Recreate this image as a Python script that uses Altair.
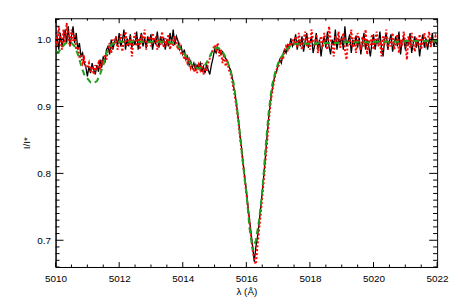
import altair as alt
import pandas as pd

# Wavelength grids (Angstrom): start and step of the sampled spectra
OBS_START, OBS_STEP = 5010.0, 0.05
MOD_START, MOD_STEP = 5010.0, 0.1

# Observed spectrum 1 (black solid), 241 samples 5010.00 .. 5022.00
black_flux = [
    0.995, 1.005, 0.985, 1.010, 0.990, 1.000, 1.015, 0.995, 1.020, 0.990,
    1.005, 1.020, 0.995, 1.010, 0.985, 0.995, 0.975, 0.980, 0.965, 0.960,
    0.945, 0.960, 0.950, 0.965, 0.955, 0.948, 0.962, 0.952, 0.970, 0.958,
    0.975, 0.965, 0.985, 0.990, 0.978, 1.000, 0.985, 0.995, 1.005, 0.990,
    1.010, 0.990, 0.998, 1.015, 0.985, 1.002, 0.990, 1.008, 0.988, 1.000,
    0.992, 1.012, 0.985, 1.000, 1.010, 0.990, 1.003, 0.987, 1.005, 0.995,
    1.008, 0.985, 1.000, 0.993, 1.012, 0.988, 1.005, 0.995, 1.003, 0.985,
    1.000, 0.990, 1.010, 0.995, 1.015, 0.992, 1.005, 0.998, 0.985, 0.990,
    0.978, 0.985, 0.970, 0.975, 0.962, 0.968, 0.958, 0.965, 0.955, 0.962,
    0.958, 0.965, 0.952, 0.960, 0.950, 0.963, 0.955, 0.948, 0.962, 0.972,
    0.985, 0.980, 0.988, 0.984, 0.978, 0.982, 0.975, 0.972, 0.968, 0.960,
    0.955, 0.945, 0.930, 0.918, 0.900, 0.880, 0.858, 0.838, 0.815, 0.795,
    0.775, 0.752, 0.730, 0.710, 0.690, 0.668, 0.690, 0.705, 0.725, 0.748,
    0.772, 0.798, 0.825, 0.855, 0.882, 0.905, 0.922, 0.935, 0.948, 0.952,
    0.962, 0.970, 0.965, 0.978, 0.985, 0.980, 0.992, 0.988, 1.002, 0.990,
    0.995, 1.008, 0.985, 1.000, 0.990, 1.005, 0.982, 0.998, 1.010, 0.988,
    0.995, 1.005, 0.980, 0.992, 1.010, 0.985, 1.000, 0.975, 0.995, 1.005,
    0.988, 1.012, 0.990, 0.978, 1.000, 0.992, 1.015, 0.985, 1.002, 0.995,
    1.005, 0.985, 1.020, 0.990, 0.998, 1.008, 0.980, 1.000, 0.992, 1.006,
    0.988, 1.003, 0.978, 0.995, 1.010, 0.985, 1.000, 0.990, 0.975, 0.995,
    1.008, 0.985, 1.000, 0.993, 1.012, 0.988, 0.975, 1.000, 1.010, 0.985,
    0.998, 1.008, 0.982, 0.995, 1.005, 0.990, 1.012, 0.978, 0.998, 1.003,
    0.985, 1.000, 0.992, 1.010, 0.980, 0.995, 1.005, 0.988, 1.000, 0.975,
    0.995, 1.008, 0.988, 1.002, 0.985, 1.000, 0.993, 1.010, 0.990, 0.998,
    0.992,
]

# Observed spectrum 2 (red dotted), 241 samples 5010.00 .. 5022.00
red_flux = [
    1.010, 0.990, 1.020, 1.000, 0.985, 1.015, 0.995, 1.025, 1.005, 0.990,
    1.015, 0.998, 1.008, 0.985, 0.990, 0.975, 0.978, 0.965, 0.972, 0.960,
    0.958, 0.965, 0.952, 0.960, 0.948, 0.962, 0.955, 0.965, 0.958, 0.970,
    0.962, 0.978, 0.970, 0.985, 0.995, 0.980, 1.000, 0.992, 1.005, 0.985,
    0.995, 1.008, 0.982, 1.000, 1.012, 0.990, 0.995, 1.005, 0.975, 1.000,
    1.010, 0.990, 1.002, 0.985, 1.008, 0.995, 1.015, 0.985, 0.998, 1.005,
    0.990, 1.010, 0.995, 1.005, 0.985, 1.000, 0.992, 1.012, 0.988, 1.002,
    0.995, 1.008, 0.985, 1.000, 0.990, 1.005, 0.995, 0.985, 0.992, 0.980,
    0.982, 0.970, 0.978, 0.965, 0.970, 0.958, 0.965, 0.952, 0.960, 0.950,
    0.962, 0.955, 0.965, 0.948, 0.958, 0.952, 0.965, 0.972, 0.980, 0.985,
    0.992, 0.985, 0.995, 0.975, 0.985, 0.965, 0.978, 0.960, 0.970, 0.955,
    0.950, 0.940, 0.925, 0.912, 0.895, 0.878, 0.855, 0.835, 0.812, 0.790,
    0.770, 0.748, 0.728, 0.705, 0.685, 0.670, 0.664, 0.692, 0.715, 0.738,
    0.765, 0.790, 0.818, 0.845, 0.875, 0.900, 0.918, 0.932, 0.945, 0.955,
    0.958, 0.968, 0.975, 0.970, 0.982, 0.990, 0.985, 0.995, 0.990, 1.002,
    0.992, 1.005, 0.988, 1.010, 0.995, 0.985, 1.000, 1.012, 0.990, 1.003,
    0.985, 1.015, 0.998, 0.990, 1.008, 0.980, 0.995, 1.005, 0.988, 1.010,
    0.995, 0.985, 1.020, 1.000, 0.990, 0.975, 1.005, 0.995, 1.012, 0.988,
    0.998, 1.010, 0.985, 0.970, 1.000, 0.992, 1.015, 0.988, 1.003, 0.980,
    1.010, 0.995, 0.985, 1.005, 0.990, 1.015, 0.978, 1.000, 0.992, 1.008,
    0.985, 1.000, 1.012, 0.990, 0.998, 0.975, 1.005, 0.993, 1.015, 0.985,
    1.002, 0.990, 1.010, 0.985, 0.995, 1.008, 0.980, 1.000, 0.990, 1.012,
    0.995, 0.970, 1.005, 0.988, 1.010, 0.995, 0.982, 1.003, 0.990, 1.008,
    0.985, 1.000, 1.010, 0.992, 0.998, 1.012, 0.988, 1.000, 0.995, 1.005,
    0.998,
]

# Model spectrum (green dashed), 121 samples 5010.0 .. 5022.0
model_flux = [
    0.980, 0.982, 0.988, 0.994, 0.996, 0.995, 0.990, 0.978, 0.962, 0.948,
    0.942, 0.936, 0.935, 0.938, 0.948, 0.962, 0.980, 0.990, 0.994, 0.996,
    0.997, 0.997, 0.997, 0.997, 0.997, 0.997, 0.997, 0.997, 0.997, 0.997,
    0.997, 0.997, 0.997, 0.997, 0.997, 0.996, 0.996, 0.995, 0.993, 0.988,
    0.982, 0.975, 0.968, 0.962, 0.958, 0.957, 0.958, 0.962, 0.970, 0.980,
    0.987, 0.988, 0.985, 0.978, 0.968, 0.955, 0.935, 0.902, 0.858, 0.812,
    0.772, 0.718, 0.685, 0.700, 0.730, 0.772, 0.836, 0.890, 0.930, 0.950,
    0.965, 0.974, 0.981, 0.987, 0.991, 0.993, 0.994, 0.994, 0.994, 0.994,
    0.994, 0.994, 0.994, 0.995, 0.995, 0.995, 0.995, 0.995, 0.995, 0.995,
    0.996, 0.996, 0.996, 0.996, 0.996, 0.996, 0.996, 0.996, 0.996, 0.996,
    0.997, 0.997, 0.997, 0.997, 0.997, 0.997, 0.997, 0.997, 0.997, 0.997,
    0.998, 0.998, 0.998, 0.998, 0.998, 0.998, 0.998, 0.998, 0.998, 0.998,
    0.999,
]

x_major = [5010, 5012, 5014, 5016, 5018, 5020, 5022]
x_minor = [5010.5, 5011, 5011.5, 5012.5, 5013, 5013.5, 5014.5, 5015, 5015.5,
           5016.5, 5017, 5017.5, 5018.5, 5019, 5019.5, 5020.5, 5021, 5021.5]
y_major = [0.7, 0.8, 0.9, 1.0]
y_minor = [round(0.66 + 0.01 * k, 2) for k in range(38)]
y_minor = [v for v in y_minor if v not in y_major and v <= 1.03]

X_DOMAIN = [5010, 5022]
Y_DOMAIN = [0.66, 1.032]
W, H = 385, 251

black_df = pd.DataFrame({"wl": [OBS_START + OBS_STEP * i for i in range(len(black_flux))],
                         "flux": black_flux})
red_df = pd.DataFrame({"wl": [OBS_START + OBS_STEP * i for i in range(len(red_flux))],
                       "flux": red_flux})
model_df = pd.DataFrame({"wl": [MOD_START + MOD_STEP * i for i in range(len(model_flux))],
                         "flux": model_flux})

xs = alt.Scale(domain=X_DOMAIN, nice=False, zero=False)
ys = alt.Scale(domain=Y_DOMAIN, nice=False, zero=False)
font = "Liberation Sans"

x_axis = alt.Axis(values=x_major, format="d", ticks=False, grid=False,
                  labelFontSize=10, labelFont=font, labelColor="black",
                  labelPadding=7, title="λ (Å)", titleFont=font,
                  titleFontSize=10, titleFontWeight="normal", titleColor="black",
                  titlePadding=3, domainColor="black", labelFlush=False)
y_axis = alt.Axis(values=y_major, format=".1f", ticks=False, grid=False,
                  labelFontSize=10, labelFont=font, labelColor="black",
                  labelPadding=5, title="I/I*", titleFont=font,
                  titleFontSize=10, titleFontWeight="normal", titleColor="black",
                  titlePadding=5, domainColor="black", labelFlush=False)

X = lambda f: alt.X(f, scale=xs, axis=x_axis, title="λ (Å)")
Y = lambda f: alt.Y(f, scale=ys, axis=y_axis, title="I/I*")

black = alt.Chart(black_df).mark_line(color="black", strokeWidth=1.3, clip=True).encode(
    x=X("wl:Q"), y=Y("flux:Q"))
red = alt.Chart(red_df).mark_line(color="#ff0000", strokeWidth=2, strokeDash=[2, 2], clip=True).encode(
    x=X("wl:Q"), y=Y("flux:Q"))
green = alt.Chart(model_df).mark_line(color="#1fa01f", strokeWidth=2, strokeDash=[6, 4], clip=True).encode(
    x=X("wl:Q"), y=Y("flux:Q"))

def xticks(vals, length):
    d = pd.DataFrame({"v": vals})
    bottom = alt.Chart(d).mark_rule(color="black", strokeWidth=1).encode(
        x=X("v:Q"), y=alt.value(H), y2=alt.value(H - length))
    top = alt.Chart(d).mark_rule(color="black", strokeWidth=1).encode(
        x=X("v:Q"), y=alt.value(0), y2=alt.value(length))
    return [bottom, top]

def yticks(vals, length):
    d = pd.DataFrame({"v": vals})
    left = alt.Chart(d).mark_rule(color="black", strokeWidth=1).encode(
        y=Y("v:Q"), x=alt.value(0), x2=alt.value(length))
    right = alt.Chart(d).mark_rule(color="black", strokeWidth=1).encode(
        y=Y("v:Q"), x=alt.value(W), x2=alt.value(W - length))
    return [left, right]

layers = [black, red, green] + xticks(x_major, 5) + xticks(x_minor, 2.5) \
    + yticks(y_major, 8) + yticks(y_minor, 4)

chart = alt.layer(*layers).properties(
    width=W, height=H,
    autosize=alt.AutoSizeParams(type="none"),
    padding={"left": 48, "top": 9, "right": 13, "bottom": 37},
    background="white",
).configure_view(stroke="black", strokeWidth=1)

chart.save("out.html", embed_options={"renderer": "svg", "actions": False})
